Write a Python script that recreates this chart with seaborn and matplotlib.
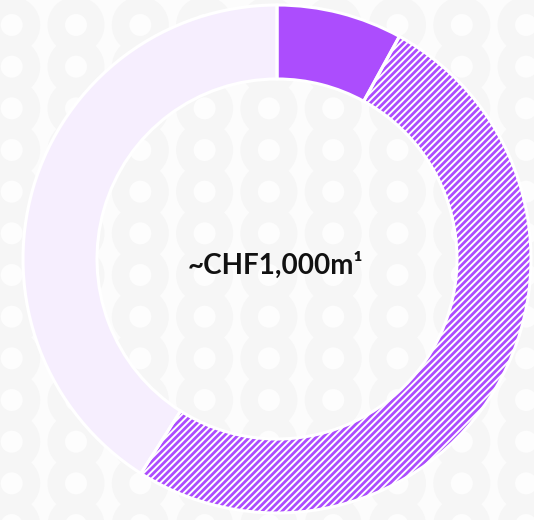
import matplotlib
matplotlib.use("Agg")
import matplotlib.pyplot as plt
from matplotlib.patches import Circle
import numpy as np
import seaborn as sns

# Share of the total, clockwise from 12 o'clock
segments = ["Realised", "Identified", "Open"]
shares = [8, 51, 41]
center_label = "~CHF1,000m¹"

purple = "#AC4DFD"
lavender = "#F6EEFE"

sns.set_theme(style="white")
plt.rcParams["font.family"] = ["Lato", "DejaVu Sans"]
plt.rcParams["hatch.linewidth"] = 2.0

W, H = 534, 520
fig = plt.figure(figsize=(W / 100, H / 100), dpi=100)
fig.patch.set_facecolor("#fcfcfc")
ax = fig.add_axes([0, 0, 1, 1])

# faint chain-of-rings backdrop
xs = np.arange(11.7, W + 40, 64.3)
ys = np.arange(25.0, H + 40, 41.67)
for x in xs:
    for y in ys:
        ax.add_patch(Circle((x, H - y), 28.5, fc="#f6f6f6", ec="none", zorder=0))
for x in xs:
    for y in ys:
        ax.add_patch(Circle((x, H - y), 11, fc="#fdfdfd", ec="none", zorder=0))

cx, cy = 277, H - 259
R, ring = 254, 74

wedges, _ = ax.pie(
    shares,
    colors=[purple, "white", lavender],
    radius=R,
    center=(cx, cy),
    startangle=90,
    counterclock=False,
    wedgeprops=dict(width=ring, linewidth=0),
)
wedges[1].set_hatch("/////")
wedges[1].set_edgecolor(purple)
wedges[1].set_linewidth(0)

# white separators and outline around the ring
ax.pie(
    shares,
    radius=R,
    center=(cx, cy),
    startangle=90,
    counterclock=False,
    wedgeprops=dict(width=ring, fill=False, edgecolor="white", linewidth=2.2),
)

ax.text(cx - 2, H - 265, center_label, ha="center", va="center",
        fontsize=20, fontweight="bold", color="#111111")

ax.set_xlim(0, W)
ax.set_ylim(0, H)
ax.set_aspect("auto")
ax.axis("off")

fig.savefig("out.png", dpi=100, facecolor=fig.get_facecolor())
